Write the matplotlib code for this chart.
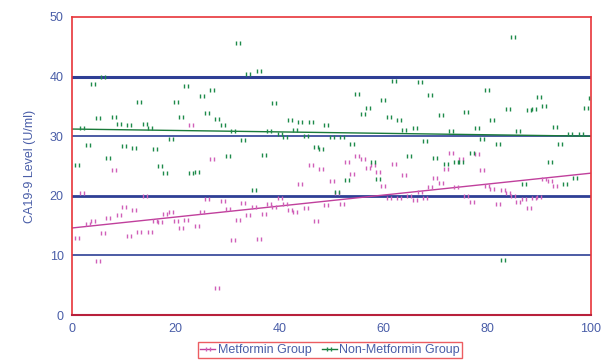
import numpy as np
import matplotlib
matplotlib.use("Agg")
from matplotlib import pyplot as plt
from matplotlib.path import Path

plt.rcParams['font.family'] = ['Liberation Sans', 'DejaVu Sans']

# Metformin group (x = patient index 1..93)
met_y = [13.0, 20.4, 15.3, 15.7, 9.1, 13.8, 16.2, 24.4, 16.7, 18.2,
         13.3, 17.7, 14.0, 20.0, 14.0, 15.7, 15.6, 17.0, 17.3, 15.8,
         14.6, 16.0, 31.9, 15.0, 17.2, 19.5, 26.2, 4.6, 19.2, 17.8,
         12.6, 16.0, 18.8, 16.8, 18.2, 12.8, 17.0, 18.7, 18.2, 19.7,
         18.7, 17.7, 17.2, 21.9, 18.0, 25.2, 15.8, 24.5, 18.5, 22.5,
         20.5, 18.7, 25.7, 23.7, 26.7, 26.1, 24.7, 25.2, 24.0, 21.7,
         19.7, 25.4, 19.7, 23.5, 20.0, 19.3, 20.7, 19.7, 21.5, 23.0,
         22.2, 24.5, 27.2, 21.4, 26.1, 20.0, 19.0, 27.0, 24.4, 21.7,
         21.2, 18.7, 20.9, 20.4, 20.0, 19.0, 19.5, 18.0, 19.7, 19.8,
         22.9, 22.4, 21.7]
met_x = list(range(1, len(met_y) + 1))

# Non-Metformin group (x = patient index 1..100)
non_y = [25.2, 31.4, 28.6, 38.8, 33.1, 40.0, 26.4, 33.3, 32.1, 28.4,
         31.9, 28.1, 35.8, 32.1, 31.4, 27.9, 25.0, 23.9, 29.5, 35.8,
         33.3, 38.5, 23.9, 24.0, 36.7, 33.9, 37.8, 32.9, 31.9, 26.7,
         30.8, 45.7, 29.4, 40.5, 21.0, 41.0, 26.9, 30.8, 35.6, 30.4,
         29.9, 32.8, 31.1, 32.4, 30.1, 32.3, 28.2, 27.9, 31.8, 29.9,
         20.7, 29.9, 22.7, 28.7, 37.1, 33.8, 34.8, 25.6, 22.9, 36.1,
         33.3, 39.3, 32.8, 31.1, 26.6, 31.4, 39.1, 29.2, 36.9, 26.4,
         33.6, 25.4, 30.9, 25.6, 25.6, 34.1, 27.2, 31.3, 29.6, 37.8,
         32.8, 28.7, 9.3, 34.6, 46.7, 30.8, 21.9, 34.4, 34.6, 36.6,
         35.0, 25.6, 31.6, 28.7, 22.0, 30.4, 23.0, 30.4, 34.8, 36.4]
non_x = list(range(1, len(non_y) + 1))

# trend lines (value at x=0 and x=100)
trend_x = [0, 100]
met_trend = [14.6, 23.8]
non_trend = [31.2, 30.0]

x_ticks = [0, 20, 40, 60, 80, 100]
y_ticks = [0, 10, 20, 30, 40, 50]

magenta = '#d060b8'
magenta_line = '#c0409c'
green = '#1e8a4a'
green_line = '#1a7a3a'
navy = '#2e3f95'
txt = '#4a5ea8'

# "double tick" marker like the original
tick_mark = Path([(-1, -0.85), (-1, 0.85), (1, -0.85), (1, 0.85)],
                 [Path.MOVETO, Path.LINETO, Path.MOVETO, Path.LINETO])
mk = dict(marker=tick_mark, ms=2.9, mew=1.0)

fig = plt.figure(figsize=(6.01, 3.6), dpi=100)
ax = fig.add_axes([0.1198, 0.125, 0.8636, 0.8278])

for yv, lw in zip([10, 20, 30, 40], [1.2, 2.0, 1.2, 2.2]):
    ax.axhline(yv, color=navy, lw=lw, zorder=1)

ax.plot(met_x, met_y, ls='none', color=magenta, zorder=3, **mk)
ax.plot(non_x, non_y, ls='none', color=green, zorder=3, **mk)

ax.plot(trend_x, met_trend, color=magenta_line, lw=1.0, zorder=2)
ax.plot(trend_x, non_trend, color=green_line, lw=1.0, zorder=2)

ax.set_xlim(0, 100)
ax.set_ylim(0, 50)
ax.set_xticks(x_ticks)
ax.set_yticks(y_ticks)
ax.tick_params(length=0, labelsize=9, labelcolor=txt, pad=6)
ax.set_ylabel("CA19-9 Level (U/ml)", color=txt, fontsize=9, labelpad=10)

for side in ['top', 'left', 'right']:
    ax.spines[side].set_color('#e8353a')
    ax.spines[side].set_linewidth(1.2)
ax.spines['bottom'].set_color('#b8203c')
ax.spines['bottom'].set_linewidth(1.5)

h1, = ax.plot([], [], color=magenta_line, lw=1.0, mec=magenta,
              label='Metformin Group', **mk)
h2, = ax.plot([], [], color=green_line, lw=1.0, mec=green,
              label='Non-Metformin Group', **mk)
leg = fig.legend(handles=[h1, h2], loc='lower center', ncol=2,
                 bbox_to_anchor=(0.549, -0.012), fontsize=9, frameon=True,
                 fancybox=False, handlelength=1.2, handletextpad=0.2,
                 columnspacing=0.8, borderpad=0.15, labelcolor=txt)
leg.get_frame().set_edgecolor('#e8353a')
leg.get_frame().set_linewidth(1.0)

fig.savefig('out.png', dpi=100)
